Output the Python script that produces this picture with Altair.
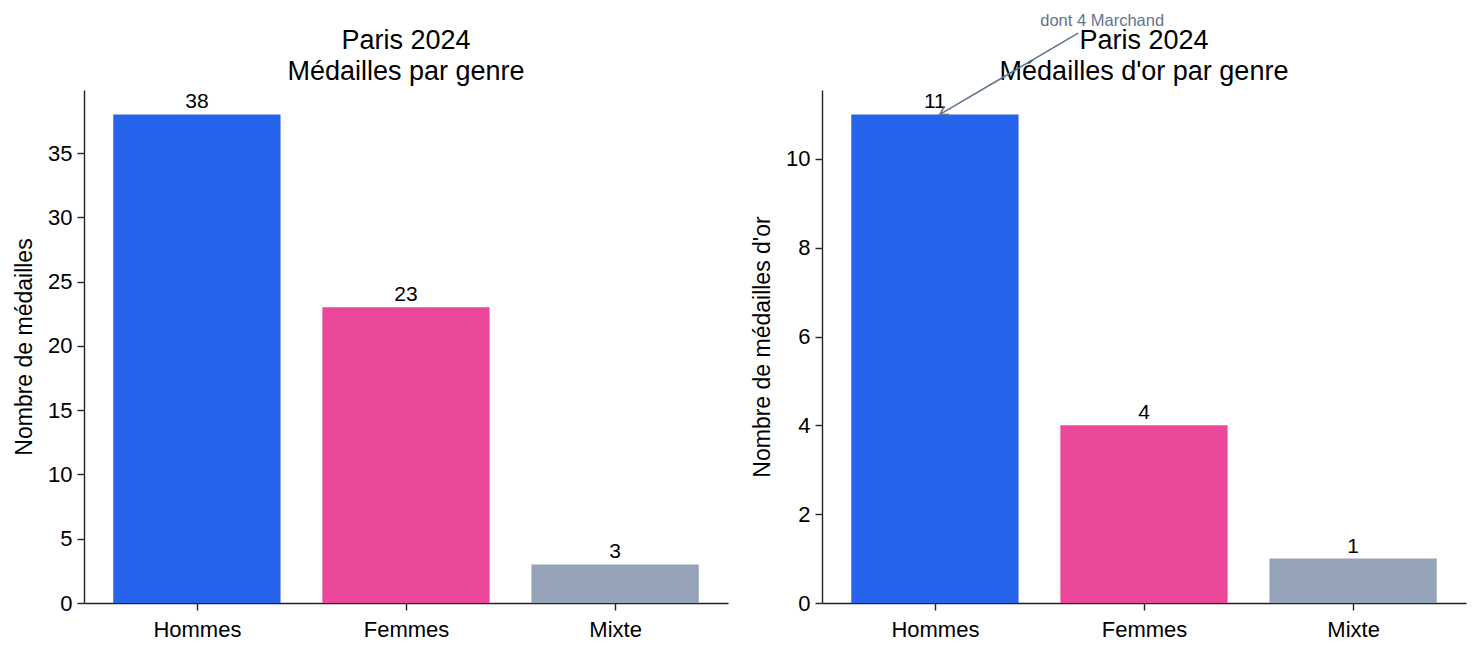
import json
import altair as alt
import pandas as pd

# ---- data ----
genres = ["Hommes", "Femmes", "Mixte"]
positions = [0, 1, 2]
medailles = [38, 23, 3]
medailles_or = [11, 4, 1]
couleurs = ["#2563eb", "#ec4899", "#94a3b8"]

ticks_left = [0, 5, 10, 15, 20, 25, 30, 35]
ticks_right = [0, 2, 4, 6, 8, 10]

titre_gauche = ["Paris 2024", "Médailles par genre"]
titre_droite = ["Paris 2024", "Médailles d'or par genre"]

annot_text = ["dont 4 Marchand"]
annot_text_x = [0.8]
annot_text_y = [13.1]
arrow_start_x = [0.685]
arrow_start_y = [12.83]
arrow_end_x = [0.024]
arrow_end_y = [11.0]

FONT = "Liberation Sans"
W, H = 644, 513

label_expr = json.dumps(genres) + "[datum.value]"


def make_df(values):
    df = pd.DataFrame({"genre": genres, "pos": positions, "n": values})
    df["x0"] = df["pos"] - 0.4
    df["x1"] = df["pos"] + 0.4
    df["zero"] = 0
    return df


def panel(values, ymax, ticks, ytitle, title_lines, annotate=False):
    xscale = alt.Scale(domain=[-0.54, 2.54], nice=False, zero=False)
    yscale = alt.Scale(domain=[0, ymax], nice=False)
    xaxis = alt.Axis(values=positions, labelExpr=label_expr, title=None,
                     grid=False, labelPadding=9)
    yaxis = alt.Axis(values=ticks, title=ytitle, grid=False,
                     labelPadding=5, titlePadding=11)
    df = make_df(values)
    base = alt.Chart(df)
    bars = base.mark_bar().encode(
        x=alt.X("x0:Q", scale=xscale, axis=xaxis),
        x2="x1:Q",
        y=alt.Y("n:Q", scale=yscale, axis=yaxis),
        y2="zero:Q",
        color=alt.Color("genre:N", scale=alt.Scale(domain=genres, range=couleurs), legend=None),
    )
    labels = base.mark_text(baseline="alphabetic", dy=-6, fontSize=21, color="black", font=FONT).encode(
        x=alt.X("pos:Q", scale=xscale, axis=xaxis),
        y=alt.Y("n:Q", scale=yscale, axis=yaxis),
        text="n:Q",
    )
    title_mark = alt.Chart(pd.DataFrame({"t": [0]})).mark_text(
        text=title_lines, fontSize=27, lineHeight=31, baseline="alphabetic",
        align="center", color="black", font=FONT,
    ).encode(x=alt.value(W / 2), y=alt.value(-41))
    layers = [bars, labels, title_mark]
    if annotate:
        adf = pd.DataFrame({
            "t": annot_text, "tx": annot_text_x, "ty": annot_text_y,
            "sx": arrow_start_x, "sy": arrow_start_y,
            "ex": arrow_end_x, "ey": arrow_end_y,
        })
        ab = alt.Chart(adf)
        line = ab.mark_rule(color="#64748b", strokeWidth=1.6).encode(
            x=alt.X("sx:Q", scale=xscale, axis=xaxis),
            y=alt.Y("sy:Q", scale=yscale, axis=yaxis),
            x2="ex:Q", y2="ey:Q",
        )
        head = ab.mark_point(shape="M-0.6,1 L0,0 L0.6,1", filled=False, stroke="#64748b",
                             strokeWidth=1.6, size=250, angle=240, opacity=1).encode(
            x=alt.X("ex:Q", scale=xscale, axis=xaxis),
            y=alt.Y("ey:Q", scale=yscale, axis=yaxis),
        )
        txt = ab.mark_text(fontSize=16.5, color="#64748b", font=FONT, baseline="middle").encode(
            x=alt.X("tx:Q", scale=xscale, axis=xaxis),
            y=alt.Y("ty:Q", scale=yscale, axis=yaxis),
            text="t:N",
        )
        layers += [line, head, txt]
    return alt.layer(*layers).properties(width=W, height=H)


left = panel(medailles, 39.9, ticks_left, "Nombre de médailles", titre_gauche)
right = panel(medailles_or, 11.55, ticks_right, "Nombre de médailles d'or", titre_droite,
              annotate=True)

chart = alt.hconcat(left, right, spacing=94, bounds="flush").properties(
    padding={"left": 5, "top": 5, "right": 5, "bottom": 5}
).configure_view(stroke=None).configure_axis(
    domainColor="#222222", tickColor="#222222", domainWidth=1.4, tickWidth=1.4,
    tickSize=7, labelColor="black", labelFontSize=22, labelFont=FONT,
    titleFont=FONT, titleFontSize=23, titleFontWeight="normal", titleColor="black",
).configure_text(font=FONT)

chart.save("out.html", embed_options={"renderer": "svg", "actions": False})
